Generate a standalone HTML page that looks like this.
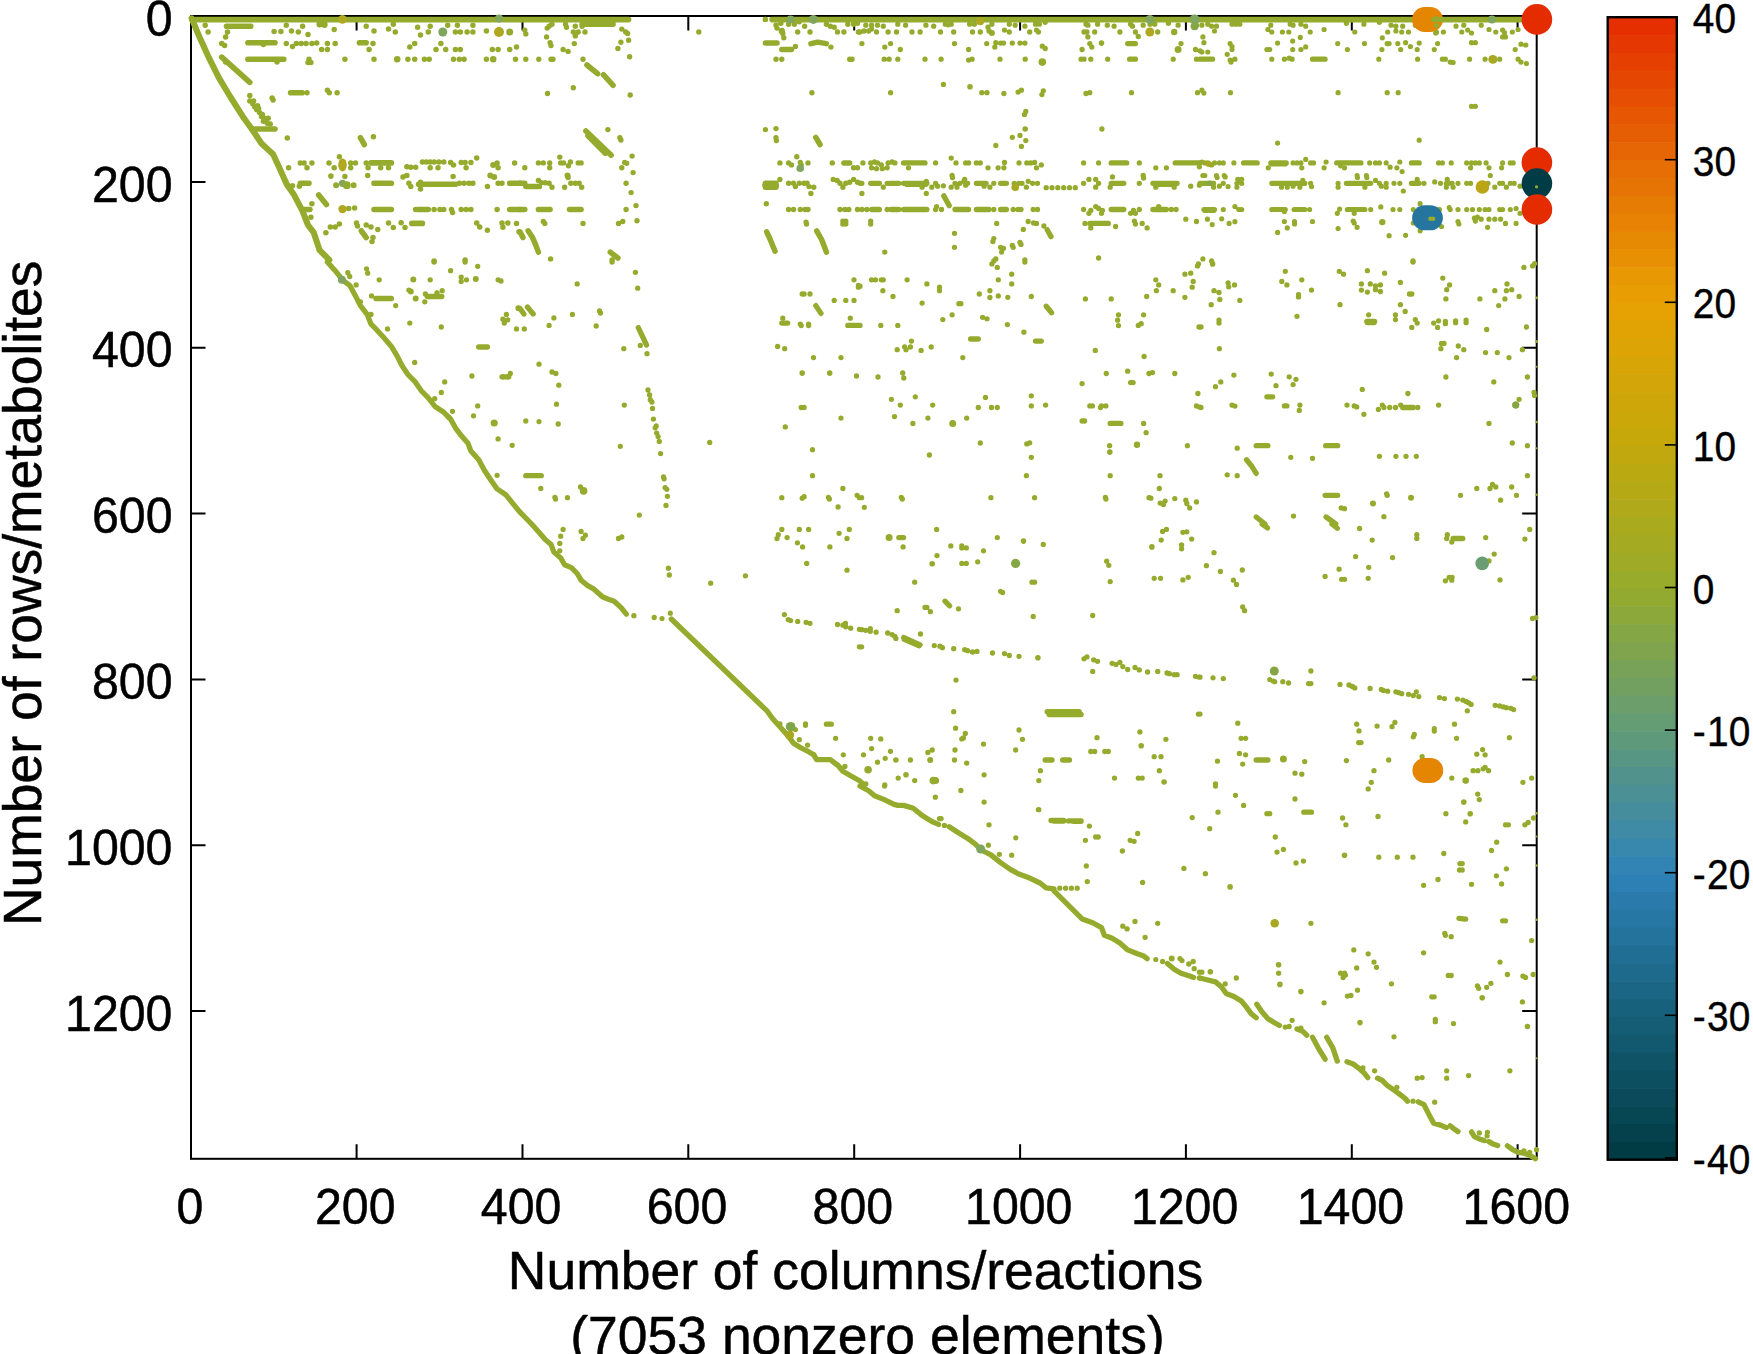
<!DOCTYPE html>
<html><head><meta charset="utf-8"><title>Sparsity pattern</title>
<style>html,body{margin:0;padding:0;background:#fff;overflow:hidden}svg{display:block}</style>
</head><body>
<svg width="1753" height="1354" viewBox="0 0 1753 1354">
<rect width="1753" height="1354" fill="#fff"/>
<g stroke="#000" stroke-width="2" fill="none">
<rect x="191.0" y="16.0" width="1345.7" height="1142.8"/>
<path d="M356.6 1158.8v-14.5M356.6 16.0v14.5"/>
<path d="M522.5 1158.8v-14.5M522.5 16.0v14.5"/>
<path d="M688.3 1158.8v-14.5M688.3 16.0v14.5"/>
<path d="M854.2 1158.8v-14.5M854.2 16.0v14.5"/>
<path d="M1020.1 1158.8v-14.5M1020.1 16.0v14.5"/>
<path d="M1185.9 1158.8v-14.5M1185.9 16.0v14.5"/>
<path d="M1351.8 1158.8v-14.5M1351.8 16.0v14.5"/>
<path d="M1517.6 1158.8v-14.5M1517.6 16.0v14.5"/>
<path d="M191.0 181.9h14.5M1536.7 181.9h-14.5"/>
<path d="M191.0 347.7h14.5M1536.7 347.7h-14.5"/>
<path d="M191.0 513.6h14.5M1536.7 513.6h-14.5"/>
<path d="M191.0 679.4h14.5M1536.7 679.4h-14.5"/>
<path d="M191.0 845.2h14.5M1536.7 845.2h-14.5"/>
<path d="M191.0 1011.0h14.5M1536.7 1011.0h-14.5"/>
</g>
<g fill="#95ab2e" stroke="none">
<path d="M191.6 18.4 L199.4 36.8 L209.1 58.2 L218.8 77.6 L230.4 97.0 L244.0 118.3 L251.8 129.0 L261.5 143.5 L273.1 154.2 L278.9 166.8 L286.7 184.2 L293.5 193.9 L302.2 210.4 L308.0 225.0 L313.8 232.7 L319.6 250.2 L329.3 259.9" fill="none" stroke="#95ab2e" stroke-width="6.1" stroke-linecap="round" stroke-linejoin="round"/>
<path d="M226.5 26.2H250.8M247.9 42.7H275.0M247.9 59.2H283.8M290.6 92.7H302.2M251.8 129.0H275.0M359.4 42.7H366.2M371.0 162.9H391.4M300.3 183.3H309.0M374.0 183.3H391.4M418.6 184.3H455.4M509.7 183.3H520.0M303.2 209.5H309.9M374.0 209.5H391.4M417.6 209.5H428.3M509.7 209.5H520.0M411.8 223.4H422.4M221.7 57.2L249.8 82.4M360.4 137.7L364.3 144.5M318.7 194.9L326.4 204.6M361.3 230.8L366.2 237.6M191.8 19.6H628.6M772.0 19.6H1536.5" fill="none" stroke="#95ab2e" stroke-width="5.6" stroke-linecap="round" stroke-linejoin="round"/>
<path d="M582.1 24.2H613.1M584.0 21.7H611.2M520.0 183.3H524.8M525.8 186.6H539.4M520.0 209.5H524.8M538.4 209.5H550.1M569.5 209.5H581.1M765.4 43.1H777.0M781.8 49.5H791.5M843.9 162.9H849.7M765.4 183.3H776.0M765.4 187.2H776.0M764.8 185.2H776.4M586.9 65.0L597.6 73.7M603.4 74.7L613.1 85.3M585.9 130.9L611.2 155.2M587.9 135.8L605.3 153.2M520.0 231.8L522.9 237.6M610.2 252.1L617.9 258.0M815.8 137.3L820.0 144.5M528.1 230.8L532.6 237.6L535.9 245.4L538.4 252.1M766.7 231.8L770.2 239.5L775.0 251.2M816.7 230.8L821.6 239.5L826.4 252.1M810.9 43.6L817.7 42.1L826.4 43.6" fill="none" stroke="#95ab2e" stroke-width="5.5" stroke-linecap="round" stroke-linejoin="round"/>
<path d="M1127.7 43.6H1135.4M1129.6 59.2H1135.4M905.6 162.9H925.0M1111.2 162.9H1126.7M1175.2 162.9H1200.0M870.7 183.3H879.4M889.1 183.3H898.8M903.6 183.3H926.9M906.5 184.3H925.9M976.4 183.3H986.1M1000.6 183.3H1006.4M1111.2 183.3H1123.8M1152.9 183.3H1177.1M1154.8 184.3H1175.2M871.6 209.5H879.4M891.0 209.5H898.8M903.6 209.5H926.9M955.0 209.5H968.6M976.4 209.5H989.0M1000.6 209.5H1006.4M1111.2 209.5H1123.8M1154.8 209.5H1166.4M1089.8 223.4H1108.3M943.8 195.9L949.2 205.6M1047.2 229.8L1051.0 236.6M375.9 298.5H391.4M427.3 296.5H441.8M478.7 347.0H487.4M502.0 376.8H508.8M327.4 262.0L335.2 270.7L342.9 280.4L349.7 285.3L355.5 295.9L360.4 305.6L367.2 314.4L371.0 324.1L375.9 328.9L383.7 337.6L391.4 346.4L397.2 356.1L402.1 365.8L407.9 374.5L414.7 381.3L421.5 391.0L428.3 397.8L435.0 406.5L443.8 412.3L450.6 419.1L455.4 427.8L461.2 435.6L468.0 443.3L470.9 451.1L478.7 459.8L484.5 470.5L490.3 479.2L497.1 488.9L505.8 494.7L513.6 504.4L520.0 512.2M525.8 475.7H541.3M781.8 323.1H787.7M847.8 325.4H860.0M520.0 308.5L523.9 314.0M527.4 307.0L533.2 314.0M638.3 327.6L646.5 345.0M815.8 305.6L821.0 313.4M970.6 339.0H978.3M1035.5 341.1H1041.3M1110.2 423.4H1120.9M1046.2 306.2L1051.6 312.8M1366.8 321.5H1374.6M1367.2 322.5H1374.2M1266.9 396.8H1272.7M1403.7 407.5H1413.3M1256.2 445.7H1267.9M1325.7 445.7H1337.7M1325.1 495.3H1337.7M1256.2 517.0L1265.0 524.0M1326.1 517.0L1335.8 524.0M1246.5 459.8L1251.4 465.7L1256.2 473.4M826.4 724.2H831.3M531.6 524.0L539.4 532.7L545.2 539.5L551.0 544.4L553.9 552.1L560.7 557.9L564.6 564.7L571.4 567.6L577.2 573.5L581.1 580.2L586.9 585.1L593.7 589.0L602.4 596.7L609.2 599.6L614.1 601.2L620.9 607.4L626.3 614.2M671.3 619.0L767.3 711.2L772.1 718.0L779.9 726.7L787.7 735.4L793.5 743.2L801.2 748.0L809.0 751.9L813.8 754.8L816.7 759.7L830.3 759.7L838.1 765.5L842.9 771.3L849.7 775.2L860.0 781.0M898.8 537.6H903.6M1047.2 711.7H1079.2M1049.1 714.5H1081.1M1045.2 760.0H1052.0M1062.7 760.0H1069.5M945.0 601.2L949.6 605.8M903.6 637.5L920.1 644.8M904.2 639.4L919.2 645.8M1453.1 538.5H1462.8M1256.2 760.0H1267.9M1262.1 524.0L1267.5 527.9M1331.9 524.0L1337.3 528.3M860.0 786.0L868.7 790.8L874.6 795.7L884.3 799.6L894.0 804.4L897.8 805.4L903.7 805.4L913.3 808.3L923.0 816.1L932.7 821.9L938.6 824.4M949.2 826.7L958.0 832.5L967.7 838.4L975.4 844.2L981.2 850.0L990.9 854.9L1000.6 862.6L1010.3 869.4L1018.1 873.7L1029.7 878.1L1040.0 883.0M1051.0 820.5H1063.7M1054.0 821.1H1063.7M1068.5 820.9H1081.1M1073.3 821.3H1081.1M1040.0 883.0L1046.2 887.8L1054.0 888.8M1052.0 888.8L1082.1 918.9L1092.7 922.7L1101.5 927.6L1104.4 935.3L1112.1 938.3L1119.9 943.1L1127.7 949.9L1137.4 953.8L1143.2 955.7L1147.1 958.6M1167.4 963.5L1174.2 969.3L1181.0 973.2L1189.7 976.1L1193.6 977.4M1303.8 812.2H1311.5M1458.9 918.3L1465.7 919.2M1312.5 1037.2L1318.3 1048.0M1326.7 1037.2L1332.9 1048.0M1200.0 978.0L1207.8 980.0L1215.5 981.9L1221.3 986.7L1226.2 993.5L1233.9 996.4L1241.7 1001.3L1245.6 1006.1L1251.4 1013.9L1256.2 1017.8M1256.8 1004.2L1262.1 1012.0L1267.9 1018.7L1273.7 1022.2L1279.5 1025.5M1297.0 1029.0L1302.8 1031.4L1306.7 1035.2M1318.3 1048.1L1325.1 1059.2M1332.9 1048.1L1337.3 1061.1M1347.0 1061.7L1353.2 1064.0L1359.0 1068.3L1363.9 1072.7L1367.8 1077.6M1377.5 1078.2L1382.3 1080.5L1387.2 1085.3L1394.0 1090.2L1400.7 1095.0L1405.6 1098.9L1407.5 1101.2M1418.2 1101.8L1424.0 1104.7L1428.9 1114.4L1433.7 1123.2L1440.5 1125.1L1446.3 1127.6M1450.2 1125.7L1454.1 1129.0L1458.0 1131.5M1471.5 1131.9L1474.4 1136.7L1480.3 1139.3L1484.1 1140.6M1489.0 1141.6L1492.9 1143.9L1497.7 1145.5M1507.4 1145.9L1512.3 1149.3L1518.1 1152.3L1523.9 1153.2L1529.7 1155.2L1535.5 1158.7M520.0 512.2L531.6 524.0" fill="none" stroke="#95ab2e" stroke-width="5.3" stroke-linecap="round" stroke-linejoin="round"/>
<path d="M1200.0 59.2H1212.6M1312.5 59.2H1325.1M1243.6 162.9H1257.2M1270.8 162.9H1286.3M1271.8 163.9H1285.3M1336.7 162.9H1361.0M1411.4 162.9H1419.2M1200.0 183.3H1213.6M1271.8 183.3H1304.7M1346.4 183.3H1370.7M1411.4 183.3H1419.2M1203.9 209.5H1214.5M1204.8 210.4H1213.6M1271.8 209.5H1285.3M1294.1 209.5H1304.7M1347.4 209.5H1364.9" fill="none" stroke="#95ab2e" stroke-width="5.2" stroke-linecap="round" stroke-linejoin="round"/>
<path d="M205.2 25.2h0M208.1 32.0h0M274.1 31.6h0M280.9 31.6h0M286.3 25.2h0M291.5 31.0h0M298.3 32.0h0M302.6 26.2h0M308.0 34.5h0M334.2 29.5h0M366.2 26.2h0M374.0 31.0h0M388.5 29.1h0M395.3 32.0h0M393.3 24.2h0M417.6 27.2h0M420.5 34.9h0M428.3 32.0h0M430.2 26.2h0M455.4 32.0h0M460.3 32.0h0M467.1 32.0h0M472.9 32.0h0M486.4 31.0h0M457.4 25.2h0M472.9 25.2h0M447.7 25.2h0M227.5 32.0h0M225.6 36.9h0M221.7 43.6h0M224.6 45.6h0M263.4 44.6h0M286.3 43.6h0M292.5 46.5h0M296.4 43.6h0M301.2 43.6h0M306.1 43.6h0M311.9 43.6h0M316.7 43.1h0M327.4 43.6h0M321.6 49.5h0M327.4 49.5h0M335.2 43.6h0M373.0 43.6h0M369.1 49.5h0M409.8 46.9h0M414.7 43.6h0M440.9 43.6h0M436.0 49.5h0M445.7 49.5h0M455.4 49.5h0M460.3 49.5h0M492.3 49.5h0M498.1 49.5h0M509.7 49.5h0M516.5 46.9h0M277.0 62.1h0M309.0 59.2h0M308.0 62.5h0M310.9 62.5h0M344.9 59.2h0M374.0 59.2h0M407.9 59.2h0M414.7 59.2h0M424.4 59.2h0M429.2 59.2h0M453.5 59.2h0M459.3 59.2h0M464.1 59.2h0M486.4 59.2h0M515.5 59.2h0M225.6 62.1h0M307.0 92.7h0M327.4 90.2h0M329.3 92.7h0M337.1 92.7h0M249.8 95.6h0M272.1 97.9h0M273.1 99.9h0M249.8 100.9h0M252.7 103.8h0M254.7 106.7h0M256.6 109.6h0M257.6 105.7h0M259.5 112.5h0M261.5 116.4h0M264.4 118.3h0M266.3 121.2h0M268.2 118.3h0M270.2 124.1h0M263.4 121.2h0M253.7 100.9h0M258.6 108.6h0M262.4 114.4h0M267.3 123.2h0M287.3 138.1h0M373.4 136.7h0M300.3 162.9h0M304.1 162.9h0M311.9 162.9h0M329.0 162.9h0M339.4 156.7h0M350.7 162.9h0M355.5 162.9h0M366.2 162.9h0M406.9 166.8h0M410.8 167.2h0M415.7 167.2h0M422.4 162.0h0M426.3 162.0h0M430.2 162.0h0M434.1 162.0h0M438.9 162.0h0M443.8 162.0h0M450.6 162.5h0M453.5 164.9h0M461.2 162.5h0M465.1 162.5h0M470.9 162.5h0M476.7 158.1h0M497.1 162.9h0M498.1 167.8h0M514.6 162.9h0M288.6 167.8h0M307.0 167.8h0M334.2 167.8h0M350.7 167.8h0M368.1 167.8h0M380.7 167.8h0M388.5 167.8h0M430.2 167.8h0M438.0 167.8h0M466.1 167.8h0M344.9 176.5h0M367.7 175.5h0M403.0 176.9h0M406.9 175.5h0M453.1 176.5h0M292.5 185.8h0M299.3 186.2h0M408.9 183.3h0M410.8 186.6h0M420.5 182.3h0M420.5 189.1h0M487.4 186.6h0M498.1 183.3h0M502.0 183.3h0M459.3 183.3h0M464.1 183.3h0M469.0 183.3h0M472.9 183.3h0M311.9 203.7h0M348.7 208.5h0M354.6 207.9h0M434.1 209.5h0M439.9 209.5h0M443.8 209.5h0M451.5 209.5h0M452.5 212.4h0M461.2 209.5h0M466.1 209.5h0M470.9 209.5h0M497.1 209.5h0M310.9 217.2h0M330.3 226.9h0M325.9 232.7h0M335.2 226.9h0M339.4 224.0h0M356.5 223.0h0M357.5 226.0h0M366.2 225.0h0M371.0 226.9h0M377.8 229.4h0M388.5 223.0h0M393.3 227.5h0M401.1 222.7h0M405.0 227.5h0M476.7 223.0h0M479.7 226.9h0M487.4 230.2h0M502.0 223.0h0M502.9 227.3h0M507.8 223.0h0M516.5 223.4h0M519.0 231.8h0M373.0 237.6h0M372.0 241.5h0M434.1 260.9h0M465.1 259.9h0" fill="none" stroke="#95ab2e" stroke-width="5.5" stroke-linecap="round"/>
<path d="M319.6 24.2h0M324.5 24.8h0M781.8 31.0h0M1174.2 32.0h0M1382.3 222.1h0M1137.0 444.7h0" fill="none" stroke="#95ab2e" stroke-width="6.4" stroke-linecap="round"/>
<path d="M509.7 32.0h0M1178.1 49.5h0M952.7 423.4h0M1515.8 405.1h0M889.1 537.6h0M935.6 780.6h0M1283.4 759.1h0" fill="none" stroke="#95ab2e" stroke-width="7.0" stroke-linecap="round"/>
<path d="M397.2 59.2h0M493.2 59.2h0M1465.7 780.6h0" fill="none" stroke="#95ab2e" stroke-width="6.6" stroke-linecap="round"/>
<path d="M493.2 164.9h0M490.3 175.5h0M494.2 176.9h0M336.1 185.2h0M353.6 185.2h0M567.5 175.5h0M991.9 33.0h0M413.3 279.5h0M410.8 291.5h0M415.7 298.5h0M475.8 279.1h0M518.4 308.2h0M1411.0 497.7h0M1373.0 503.5h0M930.2 760.0h0M1171.7 958.6h0" fill="none" stroke="#95ab2e" stroke-width="6.0" stroke-linecap="round"/>
<path d="M330.9 176.1h0M415.7 209.5h0M1101.5 43.1h0M970.0 86.7h0M1025.2 129.0h0M802.2 373.1h0M829.7 373.1h0M1109.8 452.1h0M1212.6 263.9h0M1023.5 541.1h0M932.2 563.8h0M1151.9 546.9h0M1037.9 657.8h0M895.9 760.0h0M906.0 774.8h0M1141.2 745.7h0M1164.1 782.0h0M1210.3 971.8h0M1344.5 855.2h0M1230.1 886.9h0M1463.8 802.1h0M1470.2 813.7h0M1278.6 964.8h0M1279.9 984.4h0M1300.9 991.6h0M1482.2 997.8h0M1360.0 1022.6h0M1527.4 1026.5h0" fill="none" stroke="#95ab2e" stroke-width="5.6" stroke-linecap="round"/>
<path d="M524.8 30.1h0M525.8 33.9h0M549.1 26.2h0M547.2 28.1h0M552.0 24.2h0M565.6 24.2h0M566.5 27.2h0M575.3 26.2h0M582.1 26.2h0M573.3 32.0h0M578.2 32.0h0M585.0 32.0h0M575.3 35.9h0M546.6 36.9h0M550.1 42.7h0M551.0 45.6h0M574.3 43.6h0M563.1 49.5h0M568.1 51.4h0M621.8 29.1h0M625.7 32.0h0M627.6 33.4h0M628.6 40.3h0M620.9 42.3h0M617.9 48.5h0M629.6 56.8h0M525.8 59.2h0M538.8 59.2h0M551.0 59.2h0M553.0 59.2h0M583.0 59.2h0M573.3 87.7h0M547.5 93.5h0M630.2 95.0h0M811.9 92.7h0M698.8 32.0h0M607.9 129.6h0M619.9 137.7h0M620.9 140.0h0M632.1 156.1h0M559.8 157.1h0M538.4 162.9h0M543.3 162.9h0M549.7 162.9h0M560.7 162.9h0M563.6 162.9h0M570.4 162.0h0M568.5 165.8h0M578.2 162.9h0M581.1 162.9h0M624.7 162.5h0M626.7 163.3h0M524.8 167.8h0M549.7 167.8h0M621.8 167.8h0M633.1 172.6h0M568.1 177.5h0M538.4 180.4h0M541.3 182.7h0M545.2 182.7h0M549.1 183.3h0M552.0 187.2h0M564.6 187.2h0M570.8 183.3h0M575.3 183.3h0M579.2 183.3h0M581.7 187.2h0M626.1 183.3h0M631.1 192.6h0M626.1 209.5h0M636.0 205.6h0M543.3 221.5h0M544.8 223.4h0M583.0 223.4h0M618.5 223.4h0M622.8 221.5h0M637.0 220.7h0M612.1 259.9h0M550.6 258.9h0M765.4 19.4h0M782.8 33.4h0M797.7 32.0h0M804.7 26.2h0M810.0 32.0h0M783.8 37.8h0M837.5 32.0h0M843.9 32.0h0M858.4 32.0h0M795.4 46.5h0M830.9 47.1h0M776.0 59.2h0M781.8 59.2h0M849.7 59.2h0M852.0 59.2h0M765.4 129.6h0M776.0 128.6h0M776.0 137.7h0M776.4 140.6h0M796.8 156.7h0M779.9 162.9h0M788.6 162.9h0M791.5 164.9h0M800.3 162.5h0M801.2 164.9h0M808.0 162.9h0M832.3 162.9h0M853.6 167.8h0M857.5 167.8h0M779.9 179.4h0M788.6 183.3h0M793.5 183.3h0M795.4 186.6h0M799.3 183.3h0M804.1 183.3h0M807.1 183.3h0M809.0 186.6h0M813.8 187.2h0M810.9 193.4h0M833.2 179.4h0M837.1 180.4h0M840.0 183.3h0M842.9 187.2h0M845.8 183.3h0M849.7 182.3h0M853.6 179.4h0M857.5 182.3h0M860.0 183.3h0M766.3 203.7h0M788.6 209.5h0M793.5 209.5h0M800.3 209.5h0M805.1 209.5h0M808.0 209.5h0M840.0 209.5h0M844.9 209.5h0M848.8 209.5h0M857.5 209.5h0M806.1 222.1h0M806.5 224.0h0M842.9 221.1h0M845.8 221.1h0M842.9 224.0h0M845.8 224.0h0M776.0 25.2h0M777.0 28.1h0M780.9 23.3h0M788.6 24.2h0M794.4 24.2h0M799.3 21.7h0M826.4 24.2h0M830.3 26.2h0M834.2 27.2h0M847.8 24.2h0M853.6 24.2h0M857.5 23.3h0" fill="none" stroke="#95ab2e" stroke-width="5.4" stroke-linecap="round"/>
<path d="M865.8 25.2h0M871.6 25.2h0M877.5 25.2h0M883.3 26.2h0M897.8 24.2h0M905.6 25.2h0M925.9 25.2h0M933.7 26.2h0M945.3 24.2h0M951.2 24.2h0M948.2 24.8h0M969.6 24.2h0M974.4 24.2h0M988.0 27.2h0M991.9 24.2h0M1009.3 24.2h0M1015.2 25.2h0M1024.9 26.2h0M1035.5 24.2h0M1039.4 24.2h0M1045.2 22.3h0M1086.0 24.2h0M1087.9 25.2h0M1097.6 24.2h0M1107.3 25.2h0M1114.1 26.2h0M1130.6 24.2h0M1132.5 26.2h0M1143.2 25.2h0M1150.0 24.2h0M1154.8 24.2h0M1168.4 23.3h0M1178.1 25.2h0M1196.5 25.2h0M860.0 32.0h0M863.9 31.0h0M868.7 31.0h0M871.6 29.1h0M876.5 32.0h0M888.1 32.0h0M896.5 32.0h0M912.0 32.0h0M920.1 32.0h0M940.5 32.0h0M953.7 32.0h0M972.5 32.0h0M980.3 32.0h0M989.0 31.0h0M1004.5 30.1h0M1009.3 32.0h0M1029.7 32.0h0M1036.5 30.1h0M1038.4 32.0h0M1084.0 32.0h0M1086.9 32.0h0M1094.7 32.0h0M1087.9 36.9h0M1119.9 32.0h0M1135.4 32.0h0M1138.3 36.5h0M1157.7 32.0h0M861.9 43.6h0M890.6 43.6h0M884.8 47.1h0M900.3 49.5h0M954.5 43.6h0M968.6 49.5h0M986.7 43.6h0M995.8 42.7h0M994.8 47.1h0M1000.6 43.1h0M1003.5 43.1h0M1012.3 43.1h0M1020.0 43.1h0M1024.9 43.1h0M1042.3 46.2h0M1045.2 48.5h0M1089.8 43.6h0M1091.8 47.1h0M1082.1 49.5h0M1181.0 43.6h0M1195.5 49.5h0M1200.0 50.8h0M884.2 59.2h0M889.1 59.2h0M897.8 59.2h0M925.0 59.2h0M941.1 59.2h0M968.6 60.1h0M972.1 59.2h0M1000.0 59.2h0M1025.2 59.2h0M1081.1 59.2h0M1084.0 59.2h0M1090.8 59.2h0M1107.7 59.2h0M1173.2 59.2h0M1196.5 59.2h0M943.4 84.4h0M890.6 92.7h0M981.8 92.7h0M987.0 92.7h0M1003.9 93.5h0M1018.1 92.1h0M1021.4 90.2h0M1043.3 90.8h0M1041.9 94.6h0M1086.0 93.5h0M1089.8 92.7h0M1131.5 92.7h0M1197.5 92.7h0M1025.8 111.5h0M1024.5 114.4h0M1101.9 129.0h0M1012.3 137.3h0M1020.0 135.4h0M1025.8 140.6h0M995.8 145.5h0M1021.4 146.4h0M951.2 158.1h0M862.9 162.9h0M870.7 162.9h0M874.5 162.0h0M877.5 162.9h0M881.3 164.9h0M871.6 167.8h0M876.5 168.7h0M882.3 168.7h0M887.2 167.8h0M888.1 162.9h0M892.0 162.0h0M894.9 162.9h0M903.6 162.9h0M908.5 167.8h0M935.6 162.9h0M956.0 162.9h0M965.7 162.9h0M968.6 162.9h0M976.4 162.9h0M980.3 162.9h0M988.0 167.8h0M998.1 167.8h0M1004.5 162.5h0M1003.9 167.8h0M1019.0 162.9h0M1026.8 162.9h0M1030.7 162.9h0M1034.6 162.5h0M1041.3 164.9h0M1036.5 167.8h0M1083.6 162.9h0M1098.6 162.9h0M1139.3 162.9h0M1155.8 167.8h0M1166.4 167.8h0M1199.4 166.8h0M952.1 175.5h0M952.5 177.5h0M964.7 179.4h0M1028.2 181.3h0M1088.9 179.4h0M1095.7 179.4h0M1112.5 176.9h0M1143.2 175.5h0M1143.6 178.0h0M861.9 183.3h0M883.3 187.2h0M887.2 183.3h0M922.1 187.2h0M926.3 181.3h0M931.8 187.2h0M935.6 183.3h0M937.6 186.2h0M943.4 185.8h0M951.2 187.2h0M955.0 183.3h0M957.0 187.2h0M959.9 183.3h0M963.8 181.3h0M965.7 185.2h0M967.6 183.3h0M984.1 186.2h0M989.9 187.2h0M993.8 183.3h0M1014.2 183.3h0M1019.0 183.3h0M1022.0 183.3h0M1026.4 187.2h0M1032.6 183.3h0M1037.5 183.3h0M1046.2 187.7h0M1052.0 187.7h0M1057.8 187.7h0M1063.7 187.7h0M1069.5 187.7h0M1075.3 187.7h0M1083.6 183.3h0M1095.7 187.2h0M1098.6 183.3h0M1110.2 187.2h0M1139.3 183.3h0M1155.8 187.2h0M1174.2 187.2h0M1190.7 186.2h0M1199.4 185.2h0M861.9 193.4h0M926.3 193.4h0M861.9 209.5h0M866.8 209.5h0M887.2 209.5h0M936.6 206.6h0M935.6 209.5h0M941.5 209.5h0M993.8 209.5h0M1013.2 209.5h0M1018.1 209.5h0M1021.0 209.5h0M1033.2 209.5h0M1037.5 209.5h0M1083.6 209.5h0M1090.8 210.4h0M1088.9 213.3h0M1095.7 206.6h0M1098.6 208.5h0M1102.4 210.4h0M1101.5 213.3h0M1133.5 210.4h0M1130.6 213.3h0M1135.4 213.3h0M1139.3 209.5h0M1152.9 209.5h0M1158.7 206.6h0M1171.3 209.5h0M1176.1 209.5h0M870.7 221.1h0M870.7 224.0h0M996.7 223.4h0M1028.2 221.5h0M1033.6 223.0h0M1036.5 223.4h0M1023.3 229.4h0M1043.9 226.0h0M1085.0 223.4h0M1090.8 227.9h0M1115.6 226.5h0M1134.4 221.1h0M1135.4 224.0h0M1142.2 223.4h0M1147.1 227.9h0M1185.8 219.2h0M1196.5 221.5h0M954.5 233.3h0M954.5 247.3h0M884.8 252.1h0M993.8 238.6h0M992.9 241.5h0M1000.6 247.3h0M1003.5 248.3h0M1001.6 252.1h0M1012.3 245.4h0M1013.2 247.3h0M1020.0 242.4h0M1021.0 244.4h0M995.8 258.9h0M993.8 260.9h0M1024.9 259.9h0M1098.6 258.0h0M765.3 19.4h0M347.8 272.7h0M349.7 276.5h0M366.6 268.8h0M367.7 273.2h0M356.1 284.9h0M379.2 279.8h0M371.6 295.9h0M395.7 305.6h0M360.4 301.8h0M371.0 314.4h0M387.5 328.9h0M409.8 323.1h0M441.3 327.0h0M414.7 362.5h0M444.7 381.9h0M441.3 392.5h0M434.7 398.7h0M452.5 411.3h0M448.6 417.2h0M477.7 405.9h0M473.5 415.8h0M471.9 376.0h0M498.1 438.9h0M512.2 445.3h0M497.1 475.3h0M430.2 279.8h0M408.9 290.1h0M424.8 301.8h0M425.4 294.0h0M437.0 293.0h0M442.2 290.7h0M450.6 270.7h0M461.2 277.1h0M461.2 281.4h0M466.5 279.8h0M477.7 266.3h0M498.1 279.8h0M501.0 281.0h0M434.1 262.0h0M465.1 262.0h0M506.4 314.4h0M502.9 319.2h0M507.8 319.8h0M504.3 323.1h0M516.5 328.9h0M502.9 376.8h0M507.8 376.8h0M510.3 373.5h0M612.1 262.0h0M635.4 272.3h0M577.2 283.9h0M637.7 288.2h0M553.9 317.9h0M549.1 325.4h0M524.3 328.9h0M572.4 314.4h0M599.5 310.9h0M600.5 313.0h0M596.2 326.0h0M640.3 345.4h0M623.8 348.7h0M647.0 353.7h0M539.0 364.2h0M552.0 372.0h0M555.9 373.5h0M558.8 385.2h0M556.5 404.2h0M525.8 421.0h0M539.0 421.6h0M558.2 424.0h0M624.3 405.1h0M620.3 446.3h0M648.0 390.0h0M649.6 394.9h0M650.3 399.7h0M651.9 402.0h0M652.5 408.4h0M653.4 419.1h0M656.2 425.9h0M655.2 427.8h0M656.7 433.1h0M658.1 436.6h0M659.3 441.4h0M660.6 453.6h0M663.5 476.9h0M664.1 478.8h0M665.1 487.6h0M666.8 489.3h0M667.4 496.3h0M666.0 505.4h0M639.3 515.1h0M709.7 442.4h0M540.8 488.5h0M554.9 497.3h0M555.5 499.0h0M567.5 497.7h0M580.5 487.0h0M854.0 279.8h0M858.4 285.3h0M858.4 287.2h0M802.2 294.0h0M804.1 294.0h0M810.0 294.0h0M834.2 300.4h0M845.8 300.4h0M854.0 300.4h0M782.8 318.2h0M800.3 324.1h0M801.2 325.6h0M808.6 324.1h0M808.6 325.6h0M850.3 318.2h0M777.6 346.4h0M784.7 348.7h0M813.5 357.6h0M841.0 357.6h0M856.5 376.0h0M801.2 407.5h0M804.1 407.5h0M841.0 418.1h0M785.3 426.9h0M812.5 449.7h0M812.5 475.7h0M842.9 488.5h0M781.8 497.7h0M802.2 498.2h0M804.1 496.7h0M828.4 497.3h0M829.4 499.0h0M838.1 507.0h0M857.1 495.3h0M859.4 497.7h0M991.9 263.9h0M997.3 267.4h0M1024.9 262.0h0M1011.7 274.2h0M998.3 279.8h0M1011.7 283.9h0M871.6 279.8h0M875.5 279.8h0M881.3 279.8h0M883.3 279.8h0M907.1 279.8h0M860.0 286.2h0M926.9 283.9h0M939.5 287.2h0M939.5 290.7h0M882.9 290.7h0M893.0 296.5h0M922.1 303.1h0M989.9 290.7h0M979.3 294.0h0M989.9 297.5h0M998.3 295.9h0M1007.8 297.3h0M1031.3 296.5h0M958.9 303.7h0M960.9 303.7h0M952.1 314.8h0M942.8 319.6h0M982.6 317.3h0M987.0 318.8h0M1007.4 324.6h0M1023.9 332.2h0M1085.4 298.9h0M1111.2 298.9h0M1146.7 296.5h0M1155.8 279.8h0M1158.7 284.9h0M1156.4 290.7h0M1173.2 290.7h0M1184.9 274.2h0M1190.7 273.2h0M1193.2 281.4h0M1192.2 287.2h0M1184.9 297.3h0M1197.5 265.9h0M1198.4 263.9h0M880.8 325.4h0M897.8 325.4h0M1118.5 314.8h0M1117.6 320.2h0M1118.5 325.6h0M1143.6 314.8h0M1138.3 325.4h0M1141.2 323.7h0M1199.0 327.0h0M911.4 341.1h0M904.6 346.8h0M910.4 347.0h0M906.0 349.7h0M897.2 349.7h0M921.1 350.4h0M931.2 347.0h0M962.8 357.6h0M1095.3 350.4h0M1144.1 356.5h0M878.0 377.0h0M902.7 372.9h0M903.8 378.0h0M1106.3 373.5h0M1127.7 371.2h0M1149.0 373.5h0M1152.5 372.6h0M1174.8 373.5h0M1082.1 383.6h0M1130.6 382.6h0M1133.1 382.6h0M891.4 399.3h0M915.3 396.8h0M900.3 405.1h0M932.7 405.1h0M985.5 397.4h0M978.3 407.5h0M991.5 407.5h0M997.3 407.5h0M1031.3 395.8h0M1031.3 405.9h0M1045.6 405.1h0M1089.8 405.9h0M1092.4 405.9h0M1100.5 407.5h0M1101.5 405.9h0M1105.9 405.9h0M1197.9 393.5h0M1196.5 405.9h0M1199.4 407.1h0M894.5 416.6h0M912.9 423.4h0M927.9 418.1h0M966.7 418.1h0M1082.1 421.0h0M1084.6 421.0h0M1143.6 423.4h0M1146.1 432.7h0M980.3 443.0h0M1026.8 443.9h0M1029.7 442.8h0M929.4 455.0h0M1031.3 457.3h0M1109.6 445.7h0M1187.4 445.7h0M1026.4 475.7h0M1110.2 475.7h0M1160.0 475.7h0M1159.3 488.5h0M861.6 497.7h0M864.3 507.4h0M901.3 497.3h0M902.3 499.0h0M990.9 497.7h0M1034.6 497.7h0M1105.4 497.3h0M1105.9 499.0h0M1149.0 497.7h0M1150.9 498.2h0M1160.2 503.1h0M1163.5 504.4h0M1165.1 501.1h0M1174.8 498.6h0M1185.8 500.2h0M1186.8 503.5h0M1189.7 507.9h0M1196.5 501.9h0M1285.3 271.3h0M1339.3 271.3h0M1343.5 274.2h0M1367.4 270.7h0M1384.6 273.2h0M1413.0 262.0h0M1523.9 267.4h0M1532.6 265.9h0M1534.6 263.6h0M1228.1 282.9h0M1228.7 286.8h0M1234.5 284.9h0M1214.0 290.7h0M1219.0 292.5h0M1219.8 299.4h0M1239.8 300.4h0M1211.2 304.7h0M1281.8 281.4h0M1286.9 284.9h0M1301.8 279.8h0M1298.5 294.6h0M1298.5 296.9h0M1311.5 290.1h0M1340.0 304.7h0M1297.0 316.3h0M1361.4 283.9h0M1370.3 283.9h0M1375.5 285.9h0M1380.4 284.9h0M1361.4 290.1h0M1367.4 292.1h0M1375.5 289.7h0M1380.4 291.5h0M1400.4 282.4h0M1409.5 294.0h0M1411.8 294.0h0M1400.4 304.7h0M1405.2 311.5h0M1442.8 278.1h0M1449.6 284.9h0M1446.7 289.7h0M1445.9 298.9h0M1479.9 298.9h0M1494.8 290.7h0M1507.0 283.9h0M1506.4 290.7h0M1511.7 289.7h0M1504.9 298.9h0M1519.1 296.5h0M1498.7 305.6h0M1368.7 314.8h0M1395.5 314.8h0M1395.5 319.6h0M1415.3 319.6h0M1417.2 323.1h0M1411.8 327.4h0M1433.7 323.1h0M1438.6 320.8h0M1437.6 327.4h0M1445.4 321.5h0M1445.4 323.7h0M1455.6 320.8h0M1455.6 322.7h0M1466.1 320.2h0M1466.1 322.7h0M1486.7 329.5h0M1526.4 327.0h0M1219.0 320.2h0M1219.0 323.1h0M1201.0 327.0h0M1219.4 348.7h0M1441.5 343.5h0M1444.0 343.5h0M1440.9 348.7h0M1458.3 346.0h0M1463.8 349.7h0M1456.6 357.6h0M1485.5 352.6h0M1497.3 352.6h0M1509.0 357.6h0M1522.4 349.7h0M1233.9 375.1h0M1220.8 381.9h0M1215.5 386.7h0M1271.2 374.1h0M1289.2 376.8h0M1296.0 379.3h0M1293.1 384.6h0M1276.0 385.7h0M1445.9 377.0h0M1493.8 381.9h0M1527.4 377.0h0M1362.3 389.4h0M1407.9 393.5h0M1534.0 392.3h0M1534.6 395.4h0M1519.1 399.3h0M1232.0 405.1h0M1234.9 406.1h0M1284.4 405.9h0M1286.9 405.9h0M1299.9 405.1h0M1299.3 410.4h0M1201.0 407.5h0M1347.0 405.1h0M1354.2 405.9h0M1356.7 406.9h0M1363.9 414.3h0M1378.4 409.4h0M1382.3 405.1h0M1383.9 407.5h0M1389.7 407.5h0M1395.5 407.5h0M1400.7 405.1h0M1402.7 407.5h0M1417.8 407.5h0M1438.6 405.1h0M1489.0 423.4h0M1237.2 448.2h0M1290.8 457.3h0M1312.5 458.3h0M1379.4 456.3h0M1395.9 456.3h0M1406.0 456.3h0M1416.3 456.3h0M1512.3 443.0h0M1527.4 445.7h0M1227.2 474.8h0M1237.2 475.7h0M1527.4 475.7h0M1386.6 493.8h0M1387.2 495.3h0M1341.2 507.9h0M1344.5 508.7h0M1460.5 495.3h0M1476.8 488.5h0M1490.0 488.5h0M1492.5 484.5h0M1495.8 487.0h0M1511.7 487.0h0M1516.5 495.3h0M1500.6 500.2h0M1293.5 516.1h0M1383.9 516.7h0M633.9 615.7h0M654.2 617.5h0M563.1 529.4h0M560.7 536.2h0M559.8 543.4h0M559.8 550.8h0M581.1 531.4h0M585.4 535.2h0M583.0 538.5h0M618.5 538.5h0M621.8 537.0h0M668.4 568.2h0M669.3 575.0h0M710.7 583.2h0M745.4 575.8h0M781.8 529.4h0M778.3 534.7h0M777.0 538.5h0M787.1 537.6h0M799.3 529.4h0M808.6 529.4h0M797.4 542.8h0M802.6 546.9h0M806.7 563.4h0M829.9 546.9h0M839.1 533.3h0M849.3 529.4h0M847.0 538.5h0M847.0 570.2h0M784.4 614.6h0M788.2 619.6h0M790.6 620.6h0M797.7 621.4h0M806.1 622.3h0M810.0 623.3h0M837.5 624.5h0M842.9 625.2h0M845.5 623.3h0M845.8 626.8h0M850.7 628.2h0M859.4 629.3h0M859.4 646.8h0M779.9 723.8h0M795.4 729.6h0M805.5 723.8h0M805.5 725.3h0M799.3 739.7h0M807.6 745.1h0M835.6 738.3h0M843.3 754.8h0M813.8 754.8h0M844.9 766.4h0M936.6 529.4h0M903.1 546.9h0M950.8 545.9h0M961.8 545.9h0M961.8 547.9h0M966.3 547.9h0M997.3 537.6h0M1043.3 544.4h0M983.5 550.8h0M937.0 555.6h0M961.8 563.4h0M966.3 563.4h0M977.7 561.8h0M914.7 582.2h0M1032.0 582.2h0M1034.6 582.2h0M1000.6 591.3h0M1002.6 592.5h0M925.0 607.4h0M926.9 607.4h0M930.4 611.7h0M958.5 608.8h0M897.2 610.7h0M1033.2 616.5h0M1092.7 615.5h0M1106.7 561.2h0M1108.8 565.3h0M1110.2 581.6h0M1154.2 578.3h0M1160.6 578.3h0M1182.9 579.9h0M1188.2 577.3h0M1162.6 531.4h0M1166.4 529.4h0M1161.2 540.1h0M1182.9 532.3h0M1186.8 531.8h0M1181.6 544.9h0M1181.6 548.8h0M1191.7 539.1h0M861.9 629.7h0M865.8 630.3h0M870.3 628.7h0M870.3 631.3h0M876.1 632.2h0M887.7 633.0h0M892.0 634.6h0M894.9 636.5h0M895.9 638.4h0M920.5 634.0h0M934.3 645.6h0M939.9 646.2h0M942.4 647.7h0M953.7 648.7h0M964.7 649.7h0M967.6 650.7h0M972.5 652.0h0M977.0 651.4h0M992.5 653.0h0M1004.5 653.6h0M1009.3 655.5h0M1019.0 656.3h0M1084.0 658.8h0M1086.9 656.9h0M1093.7 659.8h0M1097.6 661.3h0M1112.1 663.3h0M1116.0 664.6h0M1119.9 662.3h0M1122.8 666.6h0M1127.7 669.5h0M1135.0 667.5h0M1139.3 669.9h0M1147.6 672.0h0M1157.7 671.4h0M1167.0 673.0h0M1169.4 673.7h0M1174.2 674.7h0M1177.1 674.7h0M1195.5 676.3h0M1199.4 677.2h0M861.6 646.8h0M1092.7 671.4h0M956.0 680.1h0M953.7 711.7h0M1198.4 714.1h0M955.6 728.2h0M965.3 733.5h0M963.4 737.9h0M961.8 738.9h0M1019.0 730.0h0M1022.5 739.3h0M983.5 744.1h0M1015.7 750.0h0M955.0 750.0h0M954.5 760.0h0M966.7 763.1h0M870.7 738.3h0M880.8 738.9h0M871.6 748.6h0M863.5 754.8h0M890.5 751.3h0M885.2 758.3h0M877.5 762.2h0M910.4 760.0h0M927.9 752.5h0M932.2 750.0h0M898.2 778.1h0M914.7 780.6h0M861.9 782.9h0M865.8 783.9h0M884.8 784.9h0M984.1 774.8h0M1040.4 770.7h0M1038.8 780.6h0M1097.0 737.7h0M1139.9 731.9h0M1165.9 739.3h0M1090.8 751.5h0M1094.7 751.5h0M1104.8 751.5h0M1108.3 751.5h0M1154.2 756.7h0M1161.0 756.7h0M1159.3 770.7h0M1114.5 778.1h0M1138.3 778.1h0M1142.2 778.1h0M1359.6 528.5h0M1372.2 540.1h0M1416.8 534.7h0M1416.8 538.5h0M1447.3 534.7h0M1446.7 538.5h0M1451.8 542.0h0M1485.7 537.6h0M1529.7 529.4h0M1524.9 539.1h0M1214.0 552.7h0M1206.4 565.7h0M1220.4 571.5h0M1242.3 570.0h0M1233.4 580.2h0M1236.5 584.5h0M1355.6 556.6h0M1392.6 557.6h0M1339.1 569.2h0M1368.7 567.3h0M1325.1 576.4h0M1341.6 579.3h0M1344.5 579.3h0M1368.2 578.3h0M1494.2 554.1h0M1489.0 560.9h0M1445.4 580.8h0M1449.2 577.3h0M1452.1 577.3h0M1451.8 580.2h0M1500.0 579.9h0M1242.7 607.0h0M1244.6 610.7h0M1532.6 618.5h0M1535.9 617.7h0M1310.9 671.0h0M1200.0 677.2h0M1213.0 677.8h0M1223.3 678.6h0M1269.8 679.6h0M1273.3 681.1h0M1274.7 681.7h0M1282.8 681.7h0M1288.6 683.0h0M1308.6 683.6h0M1310.9 683.6h0M1340.0 684.4h0M1349.0 685.0h0M1352.3 686.5h0M1354.8 687.9h0M1370.1 688.5h0M1381.3 689.4h0M1383.3 690.4h0M1387.7 691.2h0M1395.9 691.8h0M1398.8 692.7h0M1401.7 693.7h0M1408.5 694.3h0M1413.3 695.6h0M1416.3 691.8h0M1418.8 696.6h0M1439.5 697.6h0M1444.4 698.6h0M1457.4 699.1h0M1462.8 700.1h0M1466.1 701.5h0M1468.6 702.8h0M1471.1 704.4h0M1467.3 710.8h0M1495.2 705.3h0M1499.7 705.9h0M1503.5 706.9h0M1506.4 707.7h0M1510.9 708.3h0M1513.6 709.6h0M1534.0 677.8h0M1200.0 714.1h0M1237.8 723.2h0M1356.7 724.2h0M1359.0 730.9h0M1377.1 726.1h0M1394.9 722.4h0M1392.0 726.7h0M1434.3 728.6h0M1434.3 731.1h0M1454.5 724.2h0M1414.3 734.4h0M1413.3 736.8h0M1456.6 738.3h0M1509.4 737.7h0M1241.1 738.3h0M1245.6 738.3h0M1358.7 742.6h0M1361.0 742.6h0M1239.4 753.4h0M1245.6 754.8h0M1217.5 761.2h0M1242.7 764.1h0M1304.7 761.6h0M1346.4 760.6h0M1388.7 760.0h0M1422.1 756.7h0M1476.8 754.2h0M1482.6 749.6h0M1485.1 754.8h0M1295.0 773.2h0M1301.8 774.2h0M1374.0 770.7h0M1371.3 782.3h0M1451.8 778.1h0M1473.1 770.7h0M1477.9 770.7h0M1483.2 768.8h0M1485.1 767.4h0M1488.6 770.7h0M1522.9 782.3h0M1531.7 778.1h0M1215.5 783.9h0M944.4 825.4h0M884.6 786.0h0M935.3 797.2h0M960.9 790.5h0M984.1 802.1h0M1038.4 809.7h0M939.5 818.6h0M941.1 818.6h0M989.0 824.8h0M1015.8 837.8h0M988.4 845.2h0M999.3 854.3h0M1011.7 855.2h0M1162.6 961.5h0M1199.4 978.0h0M1059.8 888.2h0M1065.6 888.2h0M1071.4 888.2h0M1077.2 888.2h0M1038.8 809.7h0M1089.4 826.1h0M1095.7 837.0h0M1098.2 837.0h0M1085.4 840.3h0M1086.3 865.9h0M1087.3 881.6h0M1137.7 833.5h0M1130.2 840.3h0M1134.1 841.3h0M1122.4 851.0h0M1192.2 817.6h0M1183.9 868.4h0M1142.6 882.4h0M1122.8 926.2h0M1127.1 928.9h0M1135.0 921.4h0M1157.7 923.3h0M1145.1 937.3h0M1180.0 958.6h0M1182.0 960.6h0M1188.8 964.0h0M1193.2 961.5h0M1194.2 968.7h0M1199.4 972.2h0M1201.9 972.2h0M1225.2 983.8h0M1236.3 978.0h0M1292.1 1020.3h0M1300.9 1028.1h0M1285.3 1027.1h0M1289.2 1026.5h0M1215.5 786.0h0M1235.5 795.3h0M1243.6 805.4h0M1218.0 812.2h0M1209.7 828.7h0M1295.0 799.0h0M1266.9 813.7h0M1269.8 813.7h0M1368.2 788.9h0M1342.6 818.0h0M1345.9 824.8h0M1378.0 816.5h0M1275.3 837.0h0M1283.4 849.4h0M1277.0 852.1h0M1296.0 863.0h0M1303.4 861.1h0M1378.8 857.2h0M1397.3 857.2h0M1413.0 857.2h0M1205.4 873.7h0M1477.7 794.1h0M1479.3 799.6h0M1445.9 813.7h0M1465.7 821.9h0M1505.5 824.8h0M1508.4 824.8h0M1524.9 824.8h0M1528.2 822.5h0M1533.6 818.0h0M1496.7 842.2h0M1491.5 850.4h0M1443.8 853.5h0M1459.9 863.6h0M1462.2 863.6h0M1459.5 870.0h0M1462.2 870.0h0M1506.4 868.8h0M1496.4 875.8h0M1501.6 883.9h0M1438.0 879.5h0M1423.6 885.3h0M1471.5 884.3h0M1310.9 923.3h0M1502.6 920.8h0M1505.5 920.8h0M1444.8 933.4h0M1445.4 935.3h0M1451.2 936.7h0M1531.7 940.6h0M1353.8 949.9h0M1368.2 953.8h0M1374.0 962.1h0M1376.5 967.3h0M1423.6 952.8h0M1500.0 962.1h0M1278.6 973.2h0M1324.1 1002.8h0M1340.6 973.2h0M1344.5 973.2h0M1345.5 975.1h0M1343.1 977.6h0M1356.7 967.9h0M1357.5 990.2h0M1347.4 996.1h0M1350.9 995.5h0M1391.4 983.8h0M1448.3 975.5h0M1451.2 975.5h0M1507.4 974.5h0M1522.9 976.1h0M1525.5 977.4h0M1533.2 974.5h0M1477.4 985.8h0M1478.7 988.3h0M1486.7 987.3h0M1490.9 983.3h0M1431.8 996.8h0M1434.1 996.8h0M1522.4 1001.9h0M1435.3 1019.3h0M1435.3 1021.7h0M1453.5 1023.6h0M1394.0 1036.8h0M1362.9 1067.9h0M1374.6 1070.8h0M1396.9 1087.3h0M1413.0 1101.2h0M1479.3 1132.9h0M1487.4 1132.3h0M1487.1 1135.8h0M1536.5 1149.7h0M1529.7 1152.3h0M1523.9 1150.9h0M1417.2 1078.2h0M1422.1 1077.6h0M1446.7 1070.8h0M1446.7 1078.2h0M1468.6 1075.6h0M1509.9 1070.8h0M1434.7 1102.2h0" fill="none" stroke="#95ab2e" stroke-width="5.3" stroke-linecap="round"/>
<path d="M1042.3 62.1h0M583.6 490.9h0M868.1 769.7h0M933.3 780.6h0" fill="none" stroke="#95ab2e" stroke-width="7.6" stroke-linecap="round"/>
<path d="M1201.9 25.2h0M1207.8 24.2h0M1211.6 26.2h0M1216.5 26.2h0M1232.0 24.2h0M1235.9 24.2h0M1239.8 24.2h0M1270.8 25.2h0M1290.2 24.2h0M1293.1 25.2h0M1300.9 24.2h0M1305.7 26.2h0M1346.4 23.3h0M1363.9 24.2h0M1379.4 22.3h0M1391.0 25.2h0M1395.9 26.2h0M1402.7 26.2h0M1436.6 25.2h0M1456.0 26.2h0M1463.8 25.2h0M1481.2 25.2h0M1415.3 25.2h0M1214.5 31.0h0M1267.9 29.5h0M1271.8 32.0h0M1282.4 32.0h0M1288.8 32.0h0M1310.2 32.0h0M1324.1 29.5h0M1354.8 32.0h0M1387.7 32.0h0M1395.9 31.0h0M1401.7 32.0h0M1408.5 32.0h0M1435.7 33.0h0M1443.4 32.0h0M1461.8 32.0h0M1467.7 30.1h0M1471.5 33.0h0M1489.0 29.5h0M1495.8 32.0h0M1502.6 30.1h0M1504.5 32.6h0M1512.3 32.0h0M1518.1 29.5h0M1202.9 36.9h0M1300.3 37.4h0M1382.3 37.8h0M1502.6 36.9h0M1505.5 36.9h0M1203.9 42.7h0M1230.1 43.6h0M1232.0 46.5h0M1277.6 43.1h0M1292.7 41.1h0M1305.7 46.9h0M1337.7 43.6h0M1364.5 43.6h0M1387.2 43.6h0M1389.1 43.6h0M1397.8 43.6h0M1405.6 42.7h0M1410.4 46.5h0M1419.2 43.1h0M1437.6 43.6h0M1471.5 42.7h0M1475.4 42.7h0M1521.0 44.2h0M1525.8 45.0h0M1201.9 52.0h0M1207.8 52.0h0M1227.2 54.3h0M1232.0 49.5h0M1266.9 49.5h0M1269.8 49.5h0M1292.7 49.5h0M1300.9 49.5h0M1347.4 49.5h0M1381.9 49.5h0M1400.7 49.5h0M1417.2 49.5h0M1434.3 49.5h0M1515.2 49.5h0M1230.1 60.1h0M1234.9 59.2h0M1231.0 62.1h0M1271.8 59.2h0M1284.4 59.2h0M1289.2 58.2h0M1292.1 59.2h0M1378.8 59.2h0M1417.6 59.2h0M1442.4 59.2h0M1445.4 59.2h0M1450.2 62.1h0M1453.1 62.5h0M1469.6 59.2h0M1485.1 59.2h0M1499.7 59.2h0M1518.1 59.2h0M1521.0 62.1h0M1526.4 63.6h0M1201.9 90.2h0M1203.9 93.1h0M1230.5 92.7h0M1338.1 92.7h0M1387.2 92.7h0M1398.2 92.7h0M1471.5 106.3h0M1475.4 106.3h0M1277.6 143.1h0M1419.2 140.2h0M1201.9 162.0h0M1204.8 162.9h0M1207.8 162.9h0M1211.6 164.9h0M1214.5 162.9h0M1219.4 162.9h0M1223.3 162.9h0M1233.9 162.9h0M1268.3 167.8h0M1293.1 162.9h0M1297.0 162.9h0M1300.9 162.9h0M1305.7 159.4h0M1301.8 167.8h0M1310.6 162.9h0M1313.5 162.9h0M1326.1 162.0h0M1324.1 167.8h0M1340.6 165.8h0M1344.5 167.8h0M1369.7 162.9h0M1375.5 162.9h0M1379.4 162.9h0M1386.2 162.9h0M1390.1 167.2h0M1399.8 162.0h0M1396.9 167.8h0M1402.1 171.6h0M1438.6 162.9h0M1442.4 162.9h0M1451.2 162.9h0M1466.7 162.9h0M1471.5 162.9h0M1475.4 162.9h0M1479.3 162.9h0M1486.1 162.9h0M1470.6 167.8h0M1489.0 167.8h0M1502.6 162.9h0M1501.6 167.8h0M1510.3 162.9h0M1513.2 162.9h0M1202.9 175.5h0M1204.8 175.5h0M1216.5 175.5h0M1217.1 177.5h0M1224.2 175.5h0M1225.2 176.9h0M1357.1 175.5h0M1357.5 177.5h0M1366.4 175.5h0M1366.8 177.5h0M1490.3 175.5h0M1213.6 187.2h0M1219.4 186.2h0M1223.3 183.3h0M1228.1 186.6h0M1237.8 179.4h0M1241.7 179.4h0M1236.9 183.3h0M1241.7 183.3h0M1236.9 187.2h0M1281.5 187.2h0M1287.3 187.2h0M1293.1 186.2h0M1299.9 187.2h0M1302.8 180.4h0M1304.7 183.3h0M1310.6 183.3h0M1311.5 186.6h0M1338.1 183.3h0M1338.1 187.2h0M1364.9 187.2h0M1375.5 180.4h0M1379.4 183.3h0M1381.3 186.2h0M1386.2 183.3h0M1386.2 187.2h0M1394.0 183.3h0M1399.8 183.3h0M1403.3 191.0h0M1417.2 179.4h0M1424.0 183.3h0M1434.7 181.9h0M1440.5 183.3h0M1447.3 179.4h0M1446.3 183.3h0M1449.2 183.3h0M1452.1 183.3h0M1446.3 187.2h0M1453.1 187.2h0M1458.0 183.3h0M1466.7 183.3h0M1470.6 183.3h0M1488.0 183.3h0M1494.8 187.2h0M1499.7 183.3h0M1502.6 183.3h0M1506.4 187.2h0M1510.3 183.3h0M1514.2 183.3h0M1520.0 186.2h0M1223.3 209.5h0M1234.9 206.6h0M1238.8 209.5h0M1241.7 209.5h0M1284.4 211.4h0M1309.6 209.5h0M1339.6 209.1h0M1337.3 213.3h0M1354.2 213.3h0M1370.7 209.5h0M1380.8 206.9h0M1393.0 209.5h0M1399.8 209.5h0M1413.3 209.5h0M1420.1 203.7h0M1439.5 209.5h0M1449.2 207.5h0M1450.2 209.5h0M1458.0 209.5h0M1466.7 209.5h0M1472.5 209.5h0M1479.3 209.5h0M1485.1 209.5h0M1489.0 209.5h0M1499.7 209.5h0M1502.6 209.5h0M1510.3 209.5h0M1516.1 208.5h0M1520.0 213.3h0M1207.4 219.2h0M1212.2 224.6h0M1221.7 218.8h0M1229.1 223.4h0M1234.9 221.7h0M1284.4 221.5h0M1287.3 227.9h0M1294.5 221.5h0M1294.6 224.0h0M1312.5 221.5h0M1277.6 232.4h0M1338.1 228.5h0M1353.2 221.1h0M1354.2 223.0h0M1357.1 227.3h0M1389.1 235.7h0M1405.6 235.3h0M1420.1 230.8h0M1413.3 223.0h0M1441.5 226.5h0M1458.0 221.5h0M1458.9 224.0h0M1474.4 218.2h0M1477.4 217.2h0M1475.4 221.1h0M1481.2 219.2h0M1489.0 219.2h0M1494.8 219.2h0M1500.6 219.2h0M1505.5 223.4h0M1516.1 223.4h0M1487.6 227.3h0M1202.9 258.9h0M1211.6 260.9h0M1413.0 260.9h0M662.0 618.5h0M670.3 613.2h0M1155.8 959.6h0" fill="none" stroke="#95ab2e" stroke-width="5.2" stroke-linecap="round"/>
<path d="M494.2 423.0h0" fill="none" stroke="#95ab2e" stroke-width="7.2" stroke-linecap="round"/>
<path d="M1536.5 297.9h0M1536.5 422.0h0M1536.5 494.7h0M1536.5 813.2h0M1536.5 919.8h0" fill="none" stroke="#95ab2e" stroke-width="2.6" stroke-linecap="round"/>
<path d="M1536.5 341.5h0" fill="none" stroke="#95ab2e" stroke-width="3.0" stroke-linecap="round"/>
<path d="M1536.5 366.7h0M1536.5 448.2h0M1536.5 836.4h0M1536.5 1058.2h0" fill="none" stroke="#95ab2e" stroke-width="2.0" stroke-linecap="round"/>
<path d="M1536.5 865.5h0" fill="none" stroke="#95ab2e" stroke-width="2.4" stroke-linecap="round"/>
</g>
<rect x="1412.1" y="7.0" width="30.8" height="25.0" rx="12.5" fill="#e58603"/>
<ellipse cx="1536.9" cy="19.4" rx="15.3" ry="15.3" fill="#e52b00"/>
<ellipse cx="1536.9" cy="162.5" rx="15.3" ry="15.3" fill="#e52b00"/>
<ellipse cx="1536.9" cy="183.6" rx="15.3" ry="15.3" fill="#003c46"/>
<ellipse cx="1536.9" cy="209.5" rx="15.3" ry="15.3" fill="#e52b00"/>
<rect x="1412.1" y="205.3" width="30.8" height="25.0" rx="12.5" fill="#26759e"/>
<ellipse cx="1482.4" cy="187.0" rx="6.8" ry="6.8" fill="#bba516"/>
<ellipse cx="1492.9" cy="59.4" rx="4.6" ry="4.3" fill="#a8a822"/>
<ellipse cx="1491.9" cy="19.4" rx="4.0" ry="4.0" fill="#7fa55e"/>
<ellipse cx="790.6" cy="726.7" rx="4.8" ry="4.8" fill="#7fa54a"/>
<ellipse cx="789.6" cy="735.0" rx="4.6" ry="4.6" fill="#a8a822"/>
<ellipse cx="1015.6" cy="563.4" rx="4.6" ry="4.6" fill="#86a646"/>
<ellipse cx="1482.2" cy="563.4" rx="6.8" ry="6.8" fill="#6a9e72"/>
<ellipse cx="1274.3" cy="671.0" rx="4.5" ry="4.5" fill="#86a646"/>
<rect x="1412.4" y="758.0" width="30.8" height="24.9" rx="12.4" fill="#e58603"/>
<ellipse cx="980.7" cy="849.0" rx="4.5" ry="4.5" fill="#7fa55e"/>
<ellipse cx="1274.7" cy="923.3" rx="4.3" ry="4.3" fill="#a8a822"/>
<ellipse cx="342.5" cy="19.4" rx="4.3" ry="4.3" fill="#b0a820"/>
<ellipse cx="499.0" cy="18.6" rx="4.0" ry="4.0" fill="#7fa55e"/>
<ellipse cx="442.8" cy="32.0" rx="4.5" ry="4.5" fill="#7fa55e"/>
<ellipse cx="499.0" cy="32.0" rx="5.0" ry="5.0" fill="#b0a820"/>
<ellipse cx="342.5" cy="164.9" rx="4.3" ry="6.5" fill="#b0a820"/>
<ellipse cx="342.5" cy="183.3" rx="3.6" ry="3.6" fill="#7fa55e"/>
<ellipse cx="346.8" cy="185.2" rx="3.9" ry="3.9" fill="#95ab2e"/>
<ellipse cx="342.5" cy="209.1" rx="4.2" ry="4.2" fill="#b0a820"/>
<ellipse cx="790.5" cy="19.4" rx="4.0" ry="4.0" fill="#7fa55e"/>
<ellipse cx="813.4" cy="19.4" rx="4.5" ry="4.5" fill="#7fa55e"/>
<ellipse cx="800.2" cy="168.3" rx="3.8" ry="3.8" fill="#7fa55e"/>
<ellipse cx="980.2" cy="21.3" rx="4.0" ry="4.0" fill="#b0a820"/>
<ellipse cx="1149.9" cy="32.0" rx="4.5" ry="4.5" fill="#b0a820"/>
<ellipse cx="1149.9" cy="19.4" rx="4.5" ry="4.5" fill="#7fa55e"/>
<ellipse cx="1194.6" cy="19.4" rx="5.0" ry="5.0" fill="#7fa55e"/>
<ellipse cx="1194.6" cy="26.2" rx="4.0" ry="4.0" fill="#86a646"/>
<ellipse cx="1015.2" cy="187.2" rx="3.8" ry="3.8" fill="#a8a822"/>
<ellipse cx="1208.7" cy="163.9" rx="3.0" ry="3.0" fill="#a8a822"/>
<ellipse cx="1209.7" cy="183.3" rx="3.0" ry="2.7" fill="#86a646"/>
<ellipse cx="341.9" cy="279.8" rx="4.0" ry="4.0" fill="#7fa55e"/>
<ellipse cx="1515.7" cy="405.1" rx="3.5" ry="3.5" fill="#86a646"/>
<circle cx="1536.5" cy="186.8" r="1.6" fill="#95ab2e"/>
<circle cx="1433.0" cy="218.8" r="2.3" fill="#95ab2e"/>
<circle cx="1430.5" cy="218.8" r="2.3" fill="#95ab2e"/>
<circle cx="1436.5" cy="19.4" r="2.8" fill="#95ab2e"/>
<circle cx="1436.5" cy="25.6" r="2.6" fill="#95ab2e"/>
<circle cx="1436.5" cy="32.0" r="2.6" fill="#95ab2e"/>
<circle cx="1434.0" cy="19.6" r="2.8" fill="#95ab2e"/>
<circle cx="1439.0" cy="19.6" r="2.8" fill="#95ab2e"/>
<circle cx="1442.0" cy="19.6" r="2.8" fill="#95ab2e"/>
<rect x="1607.7" y="17.20" width="69.1" height="18.45" fill="#e52f00"/>
<rect x="1607.7" y="35.05" width="69.1" height="18.45" fill="#e53701"/>
<rect x="1607.7" y="52.90" width="69.1" height="18.45" fill="#e53f02"/>
<rect x="1607.7" y="70.75" width="69.1" height="18.45" fill="#e54702"/>
<rect x="1607.7" y="88.61" width="69.1" height="18.45" fill="#e64e03"/>
<rect x="1607.7" y="106.46" width="69.1" height="18.45" fill="#e65603"/>
<rect x="1607.7" y="124.31" width="69.1" height="18.45" fill="#e65e04"/>
<rect x="1607.7" y="142.16" width="69.1" height="18.45" fill="#e66605"/>
<rect x="1607.7" y="160.01" width="69.1" height="18.45" fill="#e66e05"/>
<rect x="1607.7" y="177.86" width="69.1" height="18.45" fill="#e67404"/>
<rect x="1607.7" y="195.72" width="69.1" height="18.45" fill="#e77c04"/>
<rect x="1607.7" y="213.57" width="69.1" height="18.45" fill="#e78204"/>
<rect x="1607.7" y="231.42" width="69.1" height="18.45" fill="#e78a03"/>
<rect x="1607.7" y="249.27" width="69.1" height="18.45" fill="#e79003"/>
<rect x="1607.7" y="267.12" width="69.1" height="18.45" fill="#e89803"/>
<rect x="1607.7" y="284.97" width="69.1" height="18.45" fill="#e89e02"/>
<rect x="1607.7" y="302.82" width="69.1" height="18.45" fill="#e6a203"/>
<rect x="1607.7" y="320.68" width="69.1" height="18.45" fill="#e1a304"/>
<rect x="1607.7" y="338.53" width="69.1" height="18.45" fill="#dda405"/>
<rect x="1607.7" y="356.38" width="69.1" height="18.45" fill="#d8a506"/>
<rect x="1607.7" y="374.23" width="69.1" height="18.45" fill="#d4a508"/>
<rect x="1607.7" y="392.08" width="69.1" height="18.45" fill="#cfa609"/>
<rect x="1607.7" y="409.93" width="69.1" height="18.45" fill="#cba70a"/>
<rect x="1607.7" y="427.79" width="69.1" height="18.45" fill="#c6a80b"/>
<rect x="1607.7" y="445.64" width="69.1" height="18.45" fill="#c1a80e"/>
<rect x="1607.7" y="463.49" width="69.1" height="18.45" fill="#bba912"/>
<rect x="1607.7" y="481.34" width="69.1" height="18.45" fill="#b6a916"/>
<rect x="1607.7" y="499.19" width="69.1" height="18.45" fill="#b0a91a"/>
<rect x="1607.7" y="517.04" width="69.1" height="18.45" fill="#aaaa1e"/>
<rect x="1607.7" y="534.90" width="69.1" height="18.45" fill="#a4aa22"/>
<rect x="1607.7" y="552.75" width="69.1" height="18.45" fill="#9faa26"/>
<rect x="1607.7" y="570.60" width="69.1" height="18.45" fill="#99ab2a"/>
<rect x="1607.7" y="588.45" width="69.1" height="18.45" fill="#93aa31"/>
<rect x="1607.7" y="606.30" width="69.1" height="18.45" fill="#8ca83a"/>
<rect x="1607.7" y="624.15" width="69.1" height="18.45" fill="#85a644"/>
<rect x="1607.7" y="642.00" width="69.1" height="18.45" fill="#7fa44d"/>
<rect x="1607.7" y="659.86" width="69.1" height="18.45" fill="#78a257"/>
<rect x="1607.7" y="677.71" width="69.1" height="18.45" fill="#72a060"/>
<rect x="1607.7" y="695.56" width="69.1" height="18.45" fill="#6b9e6a"/>
<rect x="1607.7" y="713.41" width="69.1" height="18.45" fill="#649c73"/>
<rect x="1607.7" y="731.26" width="69.1" height="18.45" fill="#5e997c"/>
<rect x="1607.7" y="749.11" width="69.1" height="18.45" fill="#589684"/>
<rect x="1607.7" y="766.97" width="69.1" height="18.45" fill="#51938c"/>
<rect x="1607.7" y="784.82" width="69.1" height="18.45" fill="#4b9094"/>
<rect x="1607.7" y="802.67" width="69.1" height="18.45" fill="#458d9c"/>
<rect x="1607.7" y="820.52" width="69.1" height="18.45" fill="#3f8aa4"/>
<rect x="1607.7" y="838.37" width="69.1" height="18.45" fill="#3887ac"/>
<rect x="1607.7" y="856.22" width="69.1" height="18.45" fill="#3284b4"/>
<rect x="1607.7" y="874.08" width="69.1" height="18.45" fill="#2d80b4"/>
<rect x="1607.7" y="891.93" width="69.1" height="18.45" fill="#2a7bac"/>
<rect x="1607.7" y="909.78" width="69.1" height="18.45" fill="#2777a4"/>
<rect x="1607.7" y="927.63" width="69.1" height="18.45" fill="#24739c"/>
<rect x="1607.7" y="945.48" width="69.1" height="18.45" fill="#216e94"/>
<rect x="1607.7" y="963.33" width="69.1" height="18.45" fill="#1e6a8c"/>
<rect x="1607.7" y="981.18" width="69.1" height="18.45" fill="#1b6684"/>
<rect x="1607.7" y="999.04" width="69.1" height="18.45" fill="#18617c"/>
<rect x="1607.7" y="1016.89" width="69.1" height="18.45" fill="#155d75"/>
<rect x="1607.7" y="1034.74" width="69.1" height="18.45" fill="#12586e"/>
<rect x="1607.7" y="1052.59" width="69.1" height="18.45" fill="#0f5367"/>
<rect x="1607.7" y="1070.44" width="69.1" height="18.45" fill="#0c4f60"/>
<rect x="1607.7" y="1088.29" width="69.1" height="18.45" fill="#0a4a5a"/>
<rect x="1607.7" y="1106.15" width="69.1" height="18.45" fill="#074653"/>
<rect x="1607.7" y="1124.00" width="69.1" height="18.45" fill="#04414c"/>
<rect x="1607.7" y="1141.85" width="69.1" height="18.45" fill="#013c45"/>
<rect x="1607.7" y="17.2" width="69.1" height="1142.5" fill="none" stroke="#000" stroke-width="2.4"/>
<path d="M1676.8 17.1h-12" stroke="#000" stroke-width="1.6"/>
<path d="M1676.8 159.7h-12" stroke="#000" stroke-width="1.6"/>
<path d="M1676.8 302.3h-12" stroke="#000" stroke-width="1.6"/>
<path d="M1676.8 444.9h-12" stroke="#000" stroke-width="1.6"/>
<path d="M1676.8 587.5h-12" stroke="#000" stroke-width="1.6"/>
<path d="M1676.8 730.1h-12" stroke="#000" stroke-width="1.6"/>
<path d="M1676.8 872.7h-12" stroke="#000" stroke-width="1.6"/>
<path d="M1676.8 1015.3h-12" stroke="#000" stroke-width="1.6"/>
<path d="M1676.8 1157.9h-12" stroke="#000" stroke-width="1.6"/>
<g font-family="Liberation Sans, sans-serif" fill="#000" stroke="#000">
<text transform="translate(190.00,1224.40) scale(0.957,1)" font-size="50.5px" text-anchor="middle" stroke-width="0.50">0</text>
<text transform="translate(355.31,1224.40) scale(0.957,1)" font-size="50.5px" text-anchor="middle" stroke-width="0.50">200</text>
<text transform="translate(521.17,1224.40) scale(0.957,1)" font-size="50.5px" text-anchor="middle" stroke-width="0.50">400</text>
<text transform="translate(687.03,1224.40) scale(0.957,1)" font-size="50.5px" text-anchor="middle" stroke-width="0.50">600</text>
<text transform="translate(852.89,1224.40) scale(0.957,1)" font-size="50.5px" text-anchor="middle" stroke-width="0.50">800</text>
<text transform="translate(1018.75,1224.40) scale(0.957,1)" font-size="50.5px" text-anchor="middle" stroke-width="0.50">1000</text>
<text transform="translate(1184.61,1224.40) scale(0.957,1)" font-size="50.5px" text-anchor="middle" stroke-width="0.50">1200</text>
<text transform="translate(1350.47,1224.40) scale(0.957,1)" font-size="50.5px" text-anchor="middle" stroke-width="0.50">1400</text>
<text transform="translate(1516.33,1224.40) scale(0.957,1)" font-size="50.5px" text-anchor="middle" stroke-width="0.50">1600</text>
<text transform="translate(172.50,35.70) scale(0.957,1)" font-size="50.5px" text-anchor="end" stroke-width="0.50">0</text>
<text transform="translate(172.50,201.52) scale(0.957,1)" font-size="50.5px" text-anchor="end" stroke-width="0.50">200</text>
<text transform="translate(172.50,367.34) scale(0.957,1)" font-size="50.5px" text-anchor="end" stroke-width="0.50">400</text>
<text transform="translate(172.50,533.16) scale(0.957,1)" font-size="50.5px" text-anchor="end" stroke-width="0.50">600</text>
<text transform="translate(172.50,698.98) scale(0.957,1)" font-size="50.5px" text-anchor="end" stroke-width="0.50">800</text>
<text transform="translate(172.50,864.80) scale(0.957,1)" font-size="50.5px" text-anchor="end" stroke-width="0.50">1000</text>
<text transform="translate(172.50,1030.62) scale(0.957,1)" font-size="50.5px" text-anchor="end" stroke-width="0.50">1200</text>
<text transform="translate(1692.80,33.10) scale(0.912,1)" font-size="42.6px" text-anchor="start" stroke-width="0.40">40</text>
<text transform="translate(1692.80,175.70) scale(0.912,1)" font-size="42.6px" text-anchor="start" stroke-width="0.40">30</text>
<text transform="translate(1692.80,318.30) scale(0.912,1)" font-size="42.6px" text-anchor="start" stroke-width="0.40">20</text>
<text transform="translate(1692.80,460.90) scale(0.912,1)" font-size="42.6px" text-anchor="start" stroke-width="0.40">10</text>
<text transform="translate(1692.80,603.50) scale(0.912,1)" font-size="42.6px" text-anchor="start" stroke-width="0.40">0</text>
<text transform="translate(1692.80,746.10) scale(0.912,1)" font-size="42.6px" text-anchor="start" stroke-width="0.40">-<tspan dx="1.5">10</tspan></text>
<text transform="translate(1692.80,888.70) scale(0.912,1)" font-size="42.6px" text-anchor="start" stroke-width="0.40">-<tspan dx="1.5">20</tspan></text>
<text transform="translate(1692.80,1031.30) scale(0.912,1)" font-size="42.6px" text-anchor="start" stroke-width="0.40">-<tspan dx="1.5">30</tspan></text>
<text transform="translate(1692.80,1173.90) scale(0.912,1)" font-size="42.6px" text-anchor="start" stroke-width="0.40">-<tspan dx="1.5">40</tspan></text>
<text transform="translate(855.50,1289.00) scale(0.985,1)" font-size="54.3px" text-anchor="middle" stroke-width="0.50">Number of columns/reactions</text>
<text transform="translate(867.50,1353.50) scale(0.985,1)" font-size="54.3px" text-anchor="middle" stroke-width="0.50">(7053 nonzero elements)</text>
<text transform="translate(41.00,593.30) rotate(-90) scale(0.985,1)" font-size="54.3px" text-anchor="middle" stroke-width="0.50">Number of rows/metabolites</text>
</g>
</svg>
</body></html>
